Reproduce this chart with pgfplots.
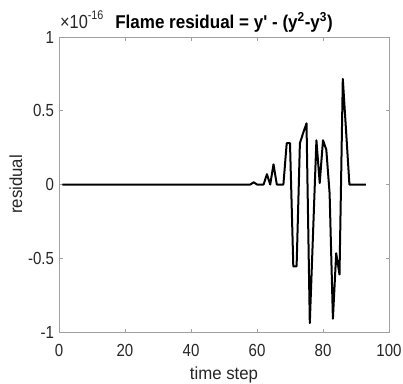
\documentclass[border=0pt]{standalone}
\usepackage{pgfplots}
\pgfplotsset{compat=1.18}
\usepackage{fontspec}
\setmainfont{Liberation Sans}
\newfontfamily\tickfont{Liberation Sans}[FakeStretch=0.86]
\newfontfamily\labfont{Liberation Sans}[FakeStretch=0.96]
\newfontfamily\tfont{Liberation Sans}[FakeStretch=0.92]
\definecolor{axgray}{RGB}{160,160,160}
\definecolor{txt}{RGB}{38,38,38}
\begin{document}
\begin{tikzpicture}
\begin{axis}[
  scale only axis,
  width=330pt, height=295pt,
  xmin=0, xmax=100, ymin=-1, ymax=1,
  xtick={0,20,40,60,80,100},
  xticklabels={0,20,40,60,80,100},
  ytick={-1,-0.5,0,0.5,1},
  yticklabels={-1,-0.5,0,0.5,1},
  tick align=inside,
  major tick length=3.5pt,
  axis line style={axgray, line width=0.7pt},
  every tick/.style={axgray, line width=0.6pt},
  ticklabel style={font=\tickfont\fontsize{17.5}{18}\selectfont, text=txt},
  xticklabel style={anchor=base, yshift=-24.7pt},
  yticklabel style={xshift=-1.5pt},
  xlabel={time step},
  ylabel={residual},
  label style={font=\labfont\fontsize{17.5}{18}\selectfont, text=txt},
  xlabel style={at={(axis description cs:0.5,0)}, anchor=base, yshift=-47.3pt},
  ylabel style={at={(axis description cs:-0.112,0.5)}, anchor=base},
  clip=false,
]
\addplot[black, line width=2pt, line join=round] coordinates {
(1,0)(2,0)(3,0)(4,0)(5,0)(6,0)(7,0)(8,0)(9,0)(10,0)
(11,0)(12,0)(13,0)(14,0)(15,0)(16,0)(17,0)(18,0)(19,0)(20,0)
(21,0)(22,0)(23,0)(24,0)(25,0)(26,0)(27,0)(28,0)(29,0)(30,0)
(31,0)(32,0)(33,0)(34,0)(35,0)(36,0)(37,0)(38,0)(39,0)(40,0)
(41,0)(42,0)(43,0)(44,0)(45,0)(46,0)(47,0)(48,0)(49,0)(50,0)
(51,0)(52,0)(53,0)(54,0)(55,0)(56,0)(57,0)(58,0)(59,0.015)(60,0)
(61,0)(62,0)(63,0.07)(64,0)(65,0.137)(66,0)(67,0)(68,0)(69,0.28)(70,0.28)
(71,-0.555)(72,-0.555)(73,0.28)(74,0.35)(75,0.415)(76,-0.94)(77,-0.32)(78,0.30)(79,0.01)(80,0.30)
(81,0.236)(82,-0.06)(83,-0.91)(84,-0.466)(85,-0.61)(86,0.716)(87,0.36)(88,0)(89,0)(90,0)
(91,0)(92,0)(93,0)
};
\node[anchor=base west, inner sep=0pt, text=txt, font=\tickfont\fontsize{19}{20}\selectfont] at ([xshift=1pt,yshift=9pt]rel axis cs:0,1) {×10\raisebox{8.6pt}{\fontsize{12.5}{13}\selectfont -16}};
\node[anchor=base, inner sep=0pt, text=black, font=\tfont\bfseries\fontsize{18.5}{19}\selectfont] at ([yshift=9pt]rel axis cs:0.5,1) {Flame residual = y' - (y\textsuperscript{2}-y\textsuperscript{3})};
\end{axis}
\pgfresetboundingbox
\path[use as bounding box] ([xshift=-59pt,yshift=-51pt]current axis.south west) rectangle ([xshift=14pt,yshift=37pt]current axis.north east);
\end{tikzpicture}
\end{document}
